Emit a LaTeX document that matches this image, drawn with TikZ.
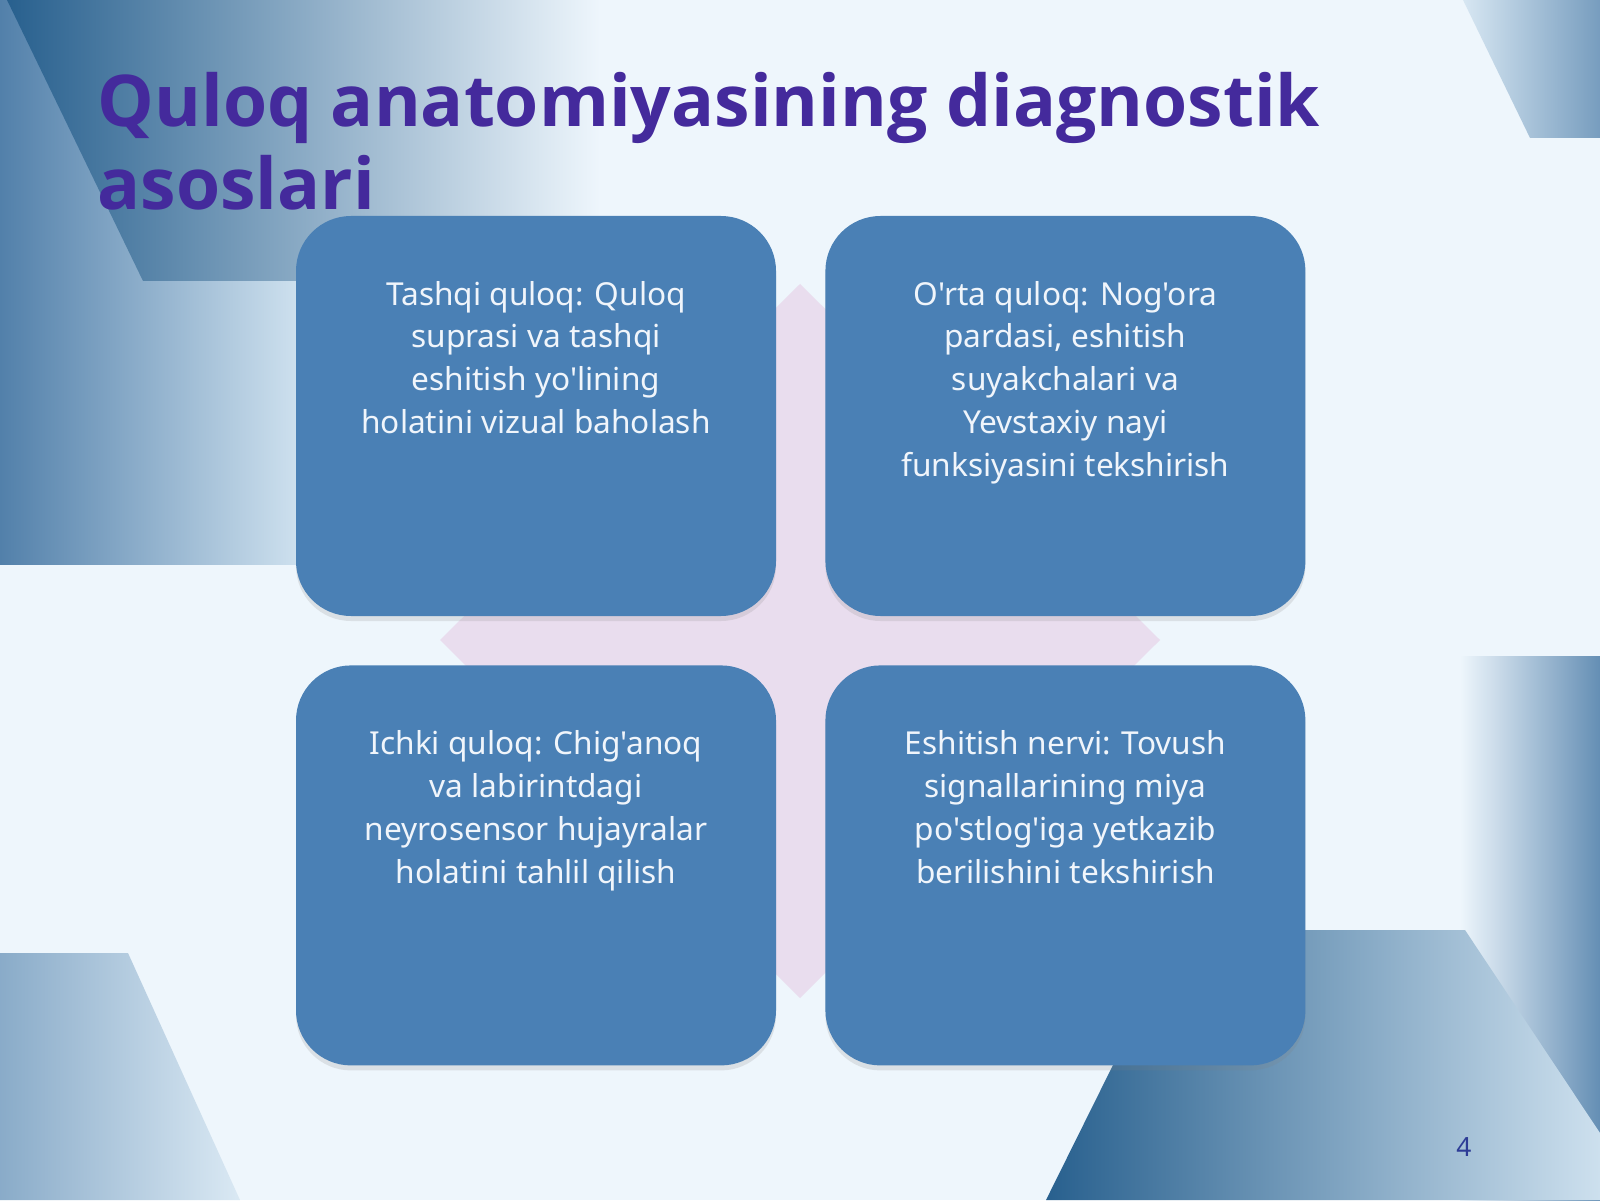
\documentclass[tikz,border=0pt]{standalone}
\usepackage{fontspec}
\newfontfamily\bodyfont{Noto Sans}[Ligatures=TeXOff]
\newfontfamily\titlefont{Open Sans}[Ligatures=TeXOff]
\usepackage{tikz}
\usetikzlibrary{positioning}
\usetikzlibrary{shadows}
\definecolor{bgbase}{RGB}{238,246,252}
\definecolor{bgdark}{RGB}{40,96,142}
\definecolor{bgmid}{RGB}{82,128,170}
\definecolor{bglight}{RGB}{205,224,238}
\definecolor{crossbg}{RGB}{233,221,238}
\definecolor{quadbg}{RGB}{74,128,181}
\definecolor{quadfg}{RGB}{240,245,251}
\definecolor{titlefg}{RGB}{68,42,156}
\definecolor{pagefg}{RGB}{45,60,150}
\tikzset{
    quad/.style={fill=quadbg, rounded corners=0.55cm, minimum width=4.8cm, minimum height=4cm, inner sep=0pt,
        drop shadow={opacity=0.18, shadow xshift=0pt, shadow yshift=-0.05cm}},
    quadtext/.style={font=\bodyfont\fontsize{9}{12.2}\selectfont, text=quadfg, align=center, inner sep=0pt},
    titletext/.style={font=\titlefont\bfseries\fontsize{20.3}{23.6}\selectfont, text=titlefg, align=left, inner sep=0pt},
    pagenum/.style={font=\bodyfont\fontsize{7.5}{9}\selectfont, text=pagefg, inner sep=0pt},
}
\begin{document}
\begin{tikzpicture}[node distance=0.48cm]
    \useasboundingbox (0,0) rectangle (16,12);
    % background
    \fill[bgbase] (0,0) rectangle (16,12);
    \shade[left color=bgmid, right color=bglight] (0,6.36) rectangle (2.96,12);
    \shade[left color=bgdark, right color=bgbase] (0.07,12) -- (1.43,9.19) -- (6,9.19) -- (6,12) -- cycle;
    \shade[left color=bglight!70!bgbase, right color=bgmid!70!bglight] (14.63,12) -- (15.3,10.62) -- (16,10.62) -- (16,12) -- cycle;
    \shade[left color=bgbase, right color=bgmid!85!bglight] (14.6,0) rectangle (16,5.44);
    \shade[left color=bgdark, right color=bglight] (10.46,0) -- (11.8,2.7) -- (14.65,2.7) -- (16,0.67) -- (16,0) -- cycle;
    \shade[left color=bgmid!55!bglight, right color=bglight!60!bgbase] (0,0) -- (0,2.47) -- (1.28,2.47) -- (2.4,0) -- cycle;
    % cross behind the matrix
    \fill[crossbg] (8,9.16) -- (11.6,5.6) -- (8,2.02) -- (4.4,5.6) -- cycle;
    % the four blocks
    \node (tashqi) [quad] at (5.36,7.84) {};
    \node (orta) [quad, right=of tashqi] {};
    \node (ichki) [quad, below=of tashqi] {};
    \node (nerv) [quad, right=of ichki] {};
    \node (tashqit) [quadtext, below=0.65cm of tashqi.north] {Tashqi quloq: Quloq\\suprasi va tashqi\\eshitish yo'lining\\holatini vizual baholash};
    \node (ortat) [quadtext, below=0.65cm of orta.north] {O'rta quloq: Nog'ora\\pardasi, eshitish\\suyakchalari va\\Yevstaxiy nayi\\funksiyasini tekshirish};
    \node (ichkit) [quadtext, below=0.65cm of ichki.north] {Ichki quloq: Chig'anoq\\va labirintdagi\\neyrosensor hujayralar\\holatini tahlil qilish};
    \node (nervt) [quadtext, below=0.65cm of nerv.north] {Eshitish nervi: Tovush\\signallarining miya\\po'stlog'iga yetkazib\\berilishini tekshirish};
    % title and page number
    \node (title) [titletext, anchor=north west] at (0.97,11.28) {Quloq anatomiyasining diagnostik\\asoslari};
    \node (pnum) [pagenum] at (14.64,0.53) {4};
\end{tikzpicture}
\end{document}
